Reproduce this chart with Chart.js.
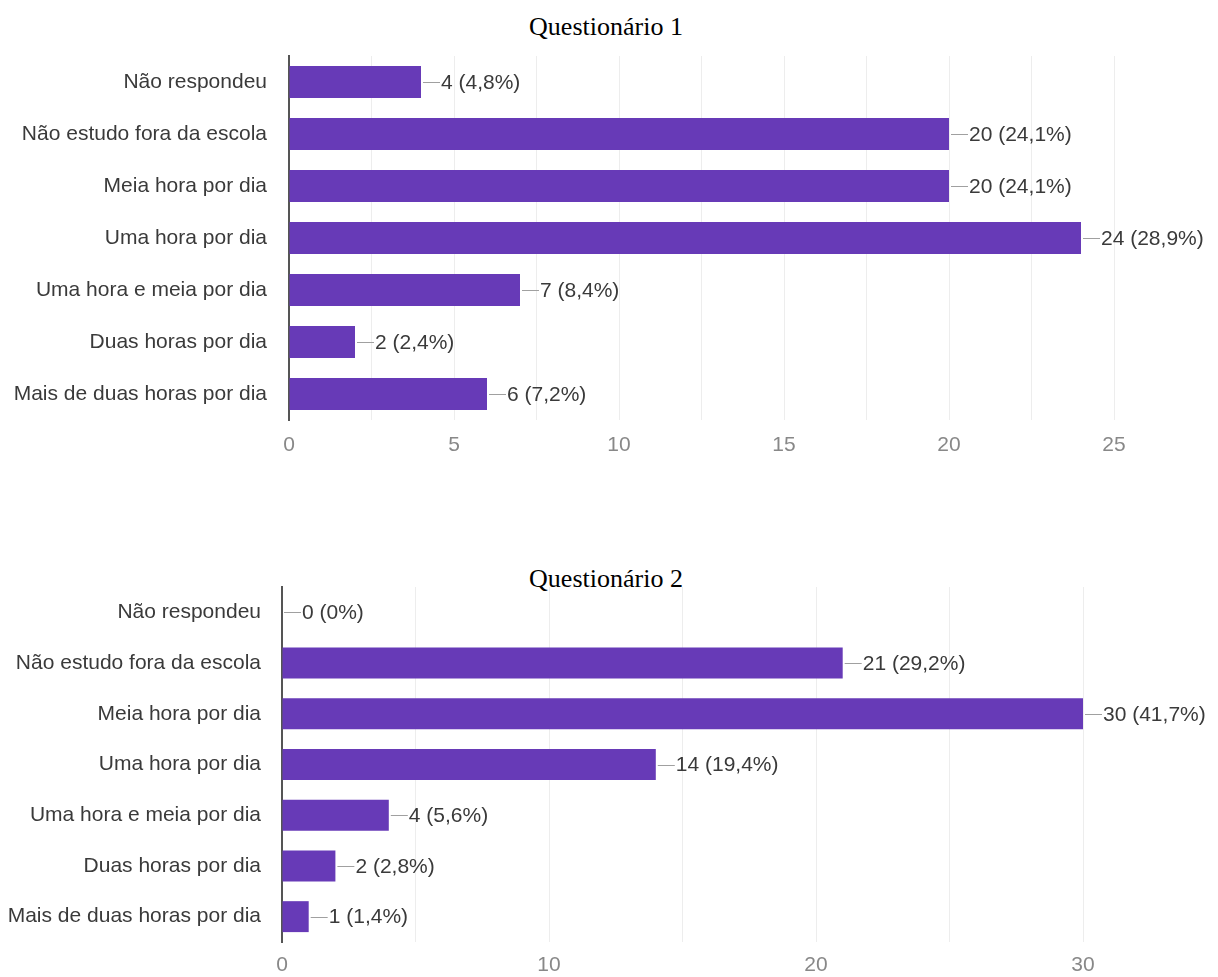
<!DOCTYPE html>
<html>
<head>
<meta charset="utf-8">
<script src="https://cdn.jsdelivr.net/npm/chart.js@4.4.0/dist/chart.umd.min.js"></script>
<style>
  body { margin: 0; background: #fff; width: 1218px; height: 977px; position: relative; overflow: hidden; }
  .title { position: absolute; left: 0; width: 1212px; text-align: center; font-family: "Liberation Serif", "Times New Roman", serif; font-size: 26px; line-height: 30px; color: #000; }
  .box { position: absolute; left: 0; width: 1218px; }
</style>
</head>
<body>
<div class="title" style="top:12px">Questionário 1</div>
<div class="box" style="top:0; height:470px"><canvas id="chart1" width="1218" height="470"></canvas></div>
<div class="title" style="top:564px">Questionário 2</div>
<div class="box" style="top:540px; height:437px"><canvas id="chart2" width="1218" height="437"></canvas></div>
<script>
const categories = [
  "Não respondeu",
  "Não estudo fora da escola",
  "Meia hora por dia",
  "Uma hora por dia",
  "Uma hora e meia por dia",
  "Duas horas por dia",
  "Mais de duas horas por dia",
];
const valuesQ1 = [4, 20, 20, 24, 7, 2, 6];
const valuesQ2 = [0, 21, 30, 14, 4, 2, 1];
const ticksQ1 = [0, 5, 10, 15, 20, 25];
const ticksQ2 = [0, 10, 20, 30];

const barColor = "#673ab7";
const sansFont = "'Liberation Sans', Arial, sans-serif";

// rótulo "n (x,y%)" com traço ao fim de cada barra
const valueLabels = {
  id: "valueLabels",
  afterDatasetsDraw(chart) {
    const ctx = chart.ctx;
    const values = chart.data.datasets[0].data;
    const total = values.reduce((a, b) => a + b, 0);
    const meta = chart.getDatasetMeta(0);
    ctx.save();
    meta.data.forEach((bar, i) => {
      const pct = Math.round((values[i] / total) * 1000) / 10;
      const text = values[i] + " (" + String(pct).replace(".", ",") + "%)";
      ctx.strokeStyle = "#a0a0a0";
      ctx.lineWidth = 1;
      ctx.beginPath();
      ctx.moveTo(bar.x + 2, Math.round(bar.y) + 0.5);
      ctx.lineTo(bar.x + 19, Math.round(bar.y) + 0.5);
      ctx.stroke();
      ctx.fillStyle = "#3a3a3a";
      ctx.font = "21px " + sansFont;
      ctx.textAlign = "left";
      ctx.textBaseline = "middle";
      ctx.fillText(text, bar.x + 20, bar.y + 1);
    });
    ctx.restore();
  },
};

function drawChart(id, values, tickLabels, opts) {
  const ctx = document.getElementById(id).getContext("2d");
  return new Chart(ctx, {
    type: "bar",
    data: {
      labels: categories,
      datasets: [
        {
          data: values,
          backgroundColor: barColor,
          barPercentage: opts.barPct,
          categoryPercentage: 1,
        },
      ],
    },
    options: {
      indexAxis: "y",
      responsive: false,
      animation: false,
      layout: { padding: { top: opts.top, right: opts.right, left: 0, bottom: 0 } },
      plugins: { legend: { display: false }, tooltip: { enabled: false } },
      scales: {
        x: {
          min: 0,
          max: tickLabels[tickLabels.length - 1],
          afterBuildTicks(scale) {
            const t = [];
            for (let v = 0; v <= scale.max + 0.001; v += opts.gridStep) t.push({ value: v });
            scale.ticks = t;
          },
          ticks: {
            autoSkip: false,
            maxRotation: 0,
            padding: opts.tickPad,
            color: "#888",
            font: { family: sansFont, size: 21 },
            callback: (v) => (tickLabels.includes(v) ? String(v) : ""),
          },
          grid: { color: "#ededed", drawTicks: false },
          border: { display: false },
          afterFit(scale) { scale.height = opts.xHeight; },
        },
        y: {
          ticks: {
            padding: opts.labelPad,
            color: "#3a3a3a",
            font: { family: sansFont, size: 21 },
          },
          grid: { display: false, drawTicks: false },
          border: { display: true, color: "#555", width: 2 },
          afterFit(scale) { scale.width = opts.axisX; },
        },
      },
    },
    plugins: [valueLabels],
  });
}

drawChart("chart1", valuesQ1, ticksQ1, {
  top: 56, right: 104, xHeight: 50, axisX: 289, labelPad: 22, tickPad: 13, gridStep: 2.5, barPct: 0.615,
});
drawChart("chart2", valuesQ2, ticksQ2, {
  top: 47, right: 135, xHeight: 35, axisX: 282, labelPad: 21, tickPad: 11, gridStep: 5, barPct: 0.61,
});
</script>
</body>
</html>
